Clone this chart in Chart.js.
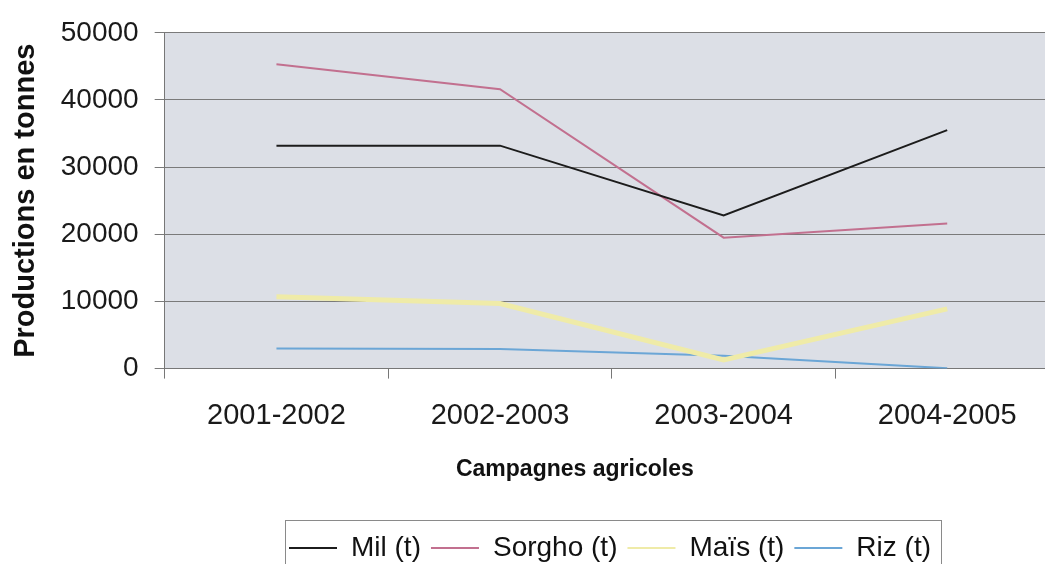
<!DOCTYPE html>
<html>
<head>
<meta charset="utf-8">
<script src="https://cdn.jsdelivr.net/npm/chart.js@4/dist/chart.umd.min.js"></script>
<style>
  html, body { margin: 0; padding: 0; background: #fff; overflow: hidden; }
  #wrap { width: 1064px; height: 572px; position: relative; }
</style>
</head>
<body>
<div id="wrap"><canvas id="chart"></canvas></div>
<script>
// Campagnes agricoles (x categories)
const campagnes = ['2001-2002', '2002-2003', '2003-2004', '2004-2005'];

// Productions en tonnes
const mil = [33200, 33200, 22800, 35500];
const sorgho = [45300, 41600, 19500, 21600];
const mais = [10700, 9700, 1300, 8900];
const riz = [3000, 2900, 1900, 50];

const yTicks = [0, 10000, 20000, 30000, 40000, 50000];

const FONT = "'Liberation Sans', Arial, sans-serif";
const legendCenter = 610;  // where the legend sits in the picture
const xTitleShift = -37;   // x title is left of the plot centre in the picture

// grey plot background
const plotBg = {
    id: 'plotBg',
    beforeDraw(chart) {
        const a = chart.chartArea;
        const ctx = chart.ctx;
        ctx.save();
        ctx.fillStyle = '#dcdfe6';
        ctx.fillRect(a.left, a.top, a.right - a.left, a.bottom - a.top);
        ctx.restore();
    }
};

// move legend / x title and frame the legend
const legendBox = {
    id: 'legendBox',
    afterLayout(chart) {
        const lg = chart.legend;
        const dx = legendCenter - (lg.left + lg.right) / 2;
        lg.left += dx;
        lg.right += dx;
        lg.legendHitBoxes.forEach(h => { h.left += dx; });

        const xs = chart.scales.x;
        if (!xs._titleShifted) {
            const orig = xs.drawTitle;
            xs.drawTitle = function () {
                this.ctx.save();
                this.ctx.translate(xTitleShift, 0);
                orig.call(this);
                this.ctx.restore();
            };
            xs._titleShifted = true;
        }
    },
    afterDraw(chart) {
        const boxes = chart.legend.legendHitBoxes;
        if (!boxes.length) return;
        const first = boxes[0], last = boxes[boxes.length - 1];
        const ctx = chart.ctx;
        ctx.save();
        ctx.strokeStyle = '#8a8a8a';
        ctx.lineWidth = 1;
        ctx.strokeRect(Math.round(first.left - 4) + 0.5, 520.5, (last.left + last.width + 10) - (first.left - 4), 80);
        ctx.restore();
    }
};

new Chart(document.getElementById('chart').getContext('2d'), {
    type: 'line',
    data: {
        labels: campagnes,
        datasets: [
            { label: 'Mil (t)', data: mil, borderColor: '#1c1c1c', borderWidth: 2 },
            { label: 'Sorgho (t)', data: sorgho, borderColor: '#c2708f', borderWidth: 2 },
            { label: 'Maïs (t)', data: mais, borderColor: '#efeba8', borderWidth: 5 },
            { label: 'Riz (t)', data: riz, borderColor: '#6ba6d6', borderWidth: 2 }
        ]
    },
    options: {
        responsive: true,
        maintainAspectRatio: false,
        animation: false,
        elements: { point: { radius: 0 }, line: { tension: 0 } },
        layout: { padding: { top: 30, right: 5, left: 0, bottom: 0 } },
        plugins: {
            tooltip: { enabled: false },
            legend: {
                position: 'bottom',
                labels: {
                    font: { family: FONT, size: 28 },
                    color: '#111',
                    usePointStyle: true,
                    pointStyle: 'line',
                    pointStyleWidth: 48,
                    padding: 10,
                    generateLabels(chart) {
                        const items = Chart.defaults.plugins.legend.labels.generateLabels(chart);
                        items.forEach(it => { it.lineWidth = 2; it.pointStyle = 'line'; });
                        return items;
                    }
                }
            }
        },
        scales: {
            x: {
                offset: true,
                grid: { offset: true, drawOnChartArea: false, drawTicks: true, tickLength: 10, color: '#777' },
                border: { color: '#777' },
                ticks: { font: { family: FONT, size: 29 }, color: '#1a1a1a', padding: 20 },
                title: {
                    display: true,
                    text: 'Campagnes agricoles',
                    font: { family: FONT, size: 23, weight: 'bold' },
                    color: '#111',
                    padding: { top: 2, bottom: 41 }
                }
            },
            y: {
                min: 0,
                max: 50000,
                afterBuildTicks(scale) { scale.ticks = yTicks.map(v => ({ value: v })); },
                grid: { color: '#7a7a7a', tickLength: 10 },
                border: { color: '#777' },
                ticks: {
                    font: { family: FONT, size: 28 },
                    color: '#1a1a1a',
                    padding: 16,
                    callback: v => String(v)
                },
                title: {
                    display: true,
                    text: 'Productions en tonnes',
                    font: { family: FONT, size: 29, weight: 'bold' },
                    color: '#111',
                    padding: { top: 9, bottom: 1 }
                }
            }
        }
    },
    plugins: [plotBg, legendBox]
});
</script>
</body>
</html>
